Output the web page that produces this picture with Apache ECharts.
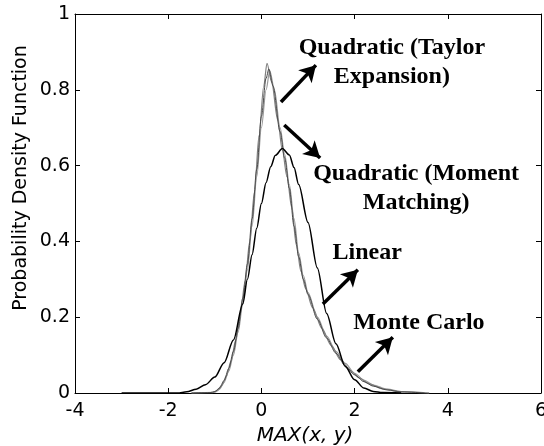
<!DOCTYPE html>
<html>
<head>
<meta charset="utf-8">
<script src="https://cdn.jsdelivr.net/npm/echarts@6/dist/echarts.min.js"></script>
<style>
html,body{margin:0;padding:0;background:#fff;}
#chart{width:544px;height:446px;}
</style>
</head>
<body>
<div id="chart"></div>
<script>
// curves, [x, pdf]
var linearData = [[-3,0],[-1.8,0],[-1.6,0.003],[-1.4,0.01],[-1.2,0.022],[-1.0,0.042],[-0.8,0.08],[-0.6,0.14],[-0.4,0.235],[-0.3,0.3],[-0.2,0.365],[-0.1,0.435],[0,0.5],[0.1,0.555],[0.2,0.597],[0.3,0.627],[0.45,0.645],[0.6,0.628],[0.7,0.595],[0.8,0.55],[1.0,0.45],[1.2,0.33],[1.4,0.21],[1.6,0.13],[1.8,0.07],[2.0,0.035],[2.2,0.013],[2.4,0.004],[2.6,0.001],[3.0,0]];
var monteCarloData = [[-1.5,0],[-1.1,0.001],[-1.0,0.004],[-0.9,0.013],[-0.8,0.033],[-0.7,0.065],[-0.6,0.11],[-0.5,0.17],[-0.4,0.25],[-0.3,0.34],[-0.2,0.46],[-0.1,0.59],[0,0.73],[0.1,0.83],[0.16,0.855],[0.25,0.81],[0.4,0.69],[0.5,0.62],[0.6,0.54],[0.7,0.44],[0.8,0.36],[0.9,0.3],[1.0,0.26],[1.2,0.195],[1.4,0.145],[1.6,0.105],[1.8,0.072],[2.0,0.048],[2.2,0.03],[2.4,0.018],[2.7,0.008],[3.0,0.003],[3.5,0]];
var taylorData = [[-1.5,0],[-1.05,0.001],[-0.95,0.006],[-0.85,0.02],[-0.75,0.045],[-0.65,0.085],[-0.55,0.14],[-0.45,0.21],[-0.35,0.295],[-0.25,0.4],[-0.15,0.53],[-0.05,0.68],[0.05,0.81],[0.12,0.87],[0.22,0.82],[0.35,0.72],[0.45,0.64],[0.55,0.57],[0.65,0.49],[0.75,0.39],[0.85,0.32],[0.95,0.275],[1.1,0.225],[1.3,0.17],[1.5,0.125],[1.7,0.088],[1.9,0.06],[2.1,0.04],[2.3,0.025],[2.6,0.011],[3.0,0.003],[3.6,0]];
var momentData = [[-1.5,0],[-1.0,0.002],[-0.9,0.01],[-0.8,0.028],[-0.7,0.058],[-0.6,0.1],[-0.5,0.16],[-0.4,0.235],[-0.3,0.325],[-0.2,0.44],[-0.1,0.57],[0,0.7],[0.1,0.8],[0.18,0.85],[0.28,0.8],[0.4,0.7],[0.5,0.63],[0.6,0.55],[0.7,0.46],[0.8,0.37],[0.9,0.31],[1.0,0.265],[1.2,0.2],[1.4,0.15],[1.6,0.11],[1.8,0.078],[2.0,0.052],[2.2,0.034],[2.4,0.021],[2.7,0.01],[3.0,0.004],[3.6,0]];

// annotation arrows [from, to] and texts, in data coords
var arrows = [
	[[0.42,0.768],[1.17,0.865]],
	[[0.49,0.707],[1.26,0.62]],
	[[1.32,0.235],[2.07,0.325]],
	[[2.07,0.056],[2.82,0.147]]
];
var notes = [
	[2.8,0.873,'Quadratic (Taylor\nExpansion)'],
	[3.32,0.541,'Quadratic (Moment\nMatching)'],
	[2.27,0.369,'Linear'],
	[3.38,0.185,'Monte Carlo']
];

var dom = document.getElementById('chart');
var myChart = echarts.init(dom);

function curve(name, data, color, width){
	return {
		name: name,
		type: 'line',
		data: data,
		showSymbol: false,
		smooth: 0.3,
		smoothMonotone: 'x',
		lineStyle: {color: color, width: width},
		z: 2
	};
}

var axisCommon = {
	axisLine: {show: true, onZero: false, lineStyle: {color: '#000', width: 1}},
	axisTick: {show: true, inside: true, length: 5, lineStyle: {color: '#000'}},
	splitLine: {show: false}
};
var sansFont = 'DejaVu Sans, Arial, sans-serif';
var labelFont = {color: '#000', fontSize: 19, fontFamily: sansFont};

var seriesval = [
	curve('Quadratic (Moment Matching)', momentData, '#9a9a9a', 1.2),
	curve('Quadratic (Taylor Expansion)', taylorData, '#808080', 1.2),
	curve('Monte Carlo', monteCarloData, '#4a4a4a', 1),
	curve('Linear', linearData, '#000', 1.5)
];

seriesval[3].markLine = {
	silent: true,
	animation: false,
	symbol: ['none', 'arrow'],
	symbolSize: [14, 16],
	label: {show: false},
	lineStyle: {color: '#000', width: 3.5, type: 'solid', opacity: 1},
	data: arrows.map(function(a){
		return [{coord: a[0]}, {coord: a[1]}];
	})
};

var axisNames = [
	{
		type: 'text', x: 305, y: 436,
		style: {text: 'MAX(x, y)', fontSize: 20, fontStyle: 'italic', fill: '#000', align: 'center', verticalAlign: 'middle', fontFamily: sansFont}
	},
	{
		type: 'text', x: 21, y: 178, rotation: Math.PI / 2,
		style: {text: 'Probability Density Function', fontSize: 19, fill: '#000', align: 'center', verticalAlign: 'middle', fontFamily: sansFont}
	}
];

var option = {
	animation: false,
	backgroundColor: '#fff',
	grid: {left: 75, right: 3, top: 14, bottom: 53, containLabel: false, outerBoundsMode: 'none'},
	xAxis: [
		Object.assign({
			type: 'value', min: -4, max: 6, interval: 2, position: 'bottom',
			axisLabel: Object.assign({margin: 9}, labelFont)
		}, axisCommon),
		Object.assign({
			type: 'value', min: -4, max: 6, interval: 2, position: 'top',
			axisLabel: {show: false}
		}, axisCommon)
	],
	yAxis: [
		Object.assign({
			type: 'value', min: 0, max: 1, interval: 0.2, position: 'left',
			axisLabel: Object.assign({margin: 5}, labelFont)
		}, axisCommon),
		Object.assign({
			type: 'value', min: 0, max: 1, interval: 0.2, position: 'right',
			axisLabel: {show: false}
		}, axisCommon)
	],
	graphic: axisNames,
	series: seriesval
};

if (option && typeof option === 'object') {
	myChart.setOption(option, true);
	// annotation texts placed at their data coords
	var noteTexts = notes.map(function(n){
		var p = myChart.convertToPixel({xAxisIndex: 0, yAxisIndex: 0}, [n[0], n[1]]);
		return {
			type: 'text', x: p[0], y: p[1], z: 100,
			style: {
				text: n[2], fill: '#000', fontSize: 24, fontWeight: 'bold',
				fontFamily: 'Liberation Serif, Times New Roman, serif',
				lineHeight: 29, align: 'center', verticalAlign: 'middle'
			}
		};
	});
	myChart.setOption({graphic: axisNames.concat(noteTexts)});
}
</script>
</body>
</html>
